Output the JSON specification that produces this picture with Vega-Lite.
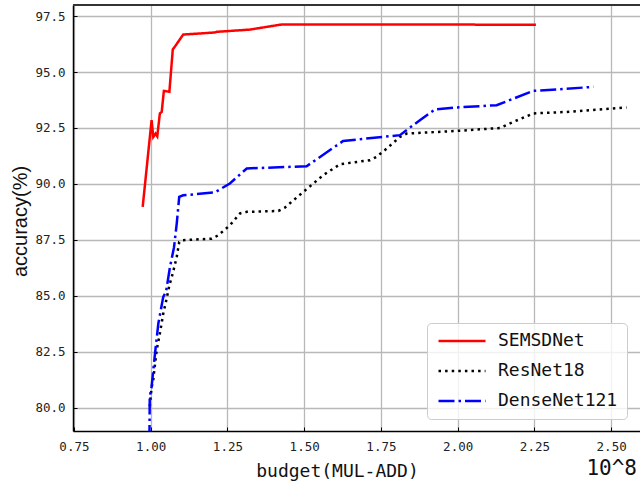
{
  "$schema": "https://vega.github.io/schema/vega-lite/v6.json",
  "width": 567,
  "height": 426,
  "autosize": {"type": "none"},
  "padding": {"left": 73, "top": 5, "right": 0, "bottom": 52},
  "background": "white",
  "config": {
    "view": {"stroke": null},
    "axis": {
      "domainColor": "#000000",
      "domainWidth": 1.5,
      "ticks": true,
      "tickSize": -4,
      "tickColor": "#000000",
      "tickWidth": 1,
      "grid": true,
      "gridColor": "#b8b8b8",
      "gridWidth": 1.3,
      "labelFont": "DejaVu Sans Mono",
      "labelFontSize": 12.5,
      "labelColor": "#222222",
      "labelFlush": false,
      "titleColor": "#111111",
      "titleFontWeight": "normal"
    }
  },
  "title": {
    "text": "10^8",
    "orient": "bottom",
    "anchor": "end",
    "frame": "group",
    "font": "DejaVu Sans Mono",
    "fontSize": 21,
    "fontWeight": "normal",
    "color": "#111111",
    "dx": -3,
    "offset": -22
  },
  "layer": [
    {
      "data": {
        "values": [
          {"model": "SEMSDNet", "budget": 0.974, "accuracy": 88.97},
          {"model": "SEMSDNet", "budget": 1.003, "accuracy": 92.85},
          {"model": "SEMSDNet", "budget": 1.0085, "accuracy": 92.1},
          {"model": "SEMSDNet", "budget": 1.016, "accuracy": 92.25},
          {"model": "SEMSDNet", "budget": 1.0215, "accuracy": 92.13},
          {"model": "SEMSDNet", "budget": 1.03, "accuracy": 93.15},
          {"model": "SEMSDNet", "budget": 1.036, "accuracy": 93.22},
          {"model": "SEMSDNet", "budget": 1.043, "accuracy": 94.16},
          {"model": "SEMSDNet", "budget": 1.061, "accuracy": 94.12},
          {"model": "SEMSDNet", "budget": 1.072, "accuracy": 96.01},
          {"model": "SEMSDNet", "budget": 1.082, "accuracy": 96.2},
          {"model": "SEMSDNet", "budget": 1.106, "accuracy": 96.68},
          {"model": "SEMSDNet", "budget": 1.209, "accuracy": 96.77},
          {"model": "SEMSDNet", "budget": 1.215, "accuracy": 96.8},
          {"model": "SEMSDNet", "budget": 1.323, "accuracy": 96.9},
          {"model": "SEMSDNet", "budget": 1.427, "accuracy": 97.13},
          {"model": "SEMSDNet", "budget": 2.255, "accuracy": 97.12},

          {"model": "ResNet18", "budget": 0.997, "accuracy": 80.05},
          {"model": "ResNet18", "budget": 1.003, "accuracy": 80.9},
          {"model": "ResNet18", "budget": 1.008, "accuracy": 81.2},
          {"model": "ResNet18", "budget": 1.0195, "accuracy": 82.56},
          {"model": "ResNet18", "budget": 1.03, "accuracy": 83.31},
          {"model": "ResNet18", "budget": 1.041, "accuracy": 84.2},
          {"model": "ResNet18", "budget": 1.052, "accuracy": 84.87},
          {"model": "ResNet18", "budget": 1.061, "accuracy": 85.47},
          {"model": "ResNet18", "budget": 1.072, "accuracy": 86.0},
          {"model": "ResNet18", "budget": 1.085, "accuracy": 86.74},
          {"model": "ResNet18", "budget": 1.093, "accuracy": 87.4},
          {"model": "ResNet18", "budget": 1.101, "accuracy": 87.48},
          {"model": "ResNet18", "budget": 1.199, "accuracy": 87.55},
          {"model": "ResNet18", "budget": 1.22, "accuracy": 87.7},
          {"model": "ResNet18", "budget": 1.258, "accuracy": 88.15},
          {"model": "ResNet18", "budget": 1.291, "accuracy": 88.68},
          {"model": "ResNet18", "budget": 1.313, "accuracy": 88.75},
          {"model": "ResNet18", "budget": 1.416, "accuracy": 88.79},
          {"model": "ResNet18", "budget": 1.437, "accuracy": 88.94},
          {"model": "ResNet18", "budget": 1.497, "accuracy": 89.64},
          {"model": "ResNet18", "budget": 1.562, "accuracy": 90.39},
          {"model": "ResNet18", "budget": 1.617, "accuracy": 90.88},
          {"model": "ResNet18", "budget": 1.714, "accuracy": 91.06},
          {"model": "ResNet18", "budget": 1.736, "accuracy": 91.21},
          {"model": "ResNet18", "budget": 1.769, "accuracy": 91.58},
          {"model": "ResNet18", "budget": 1.812, "accuracy": 92.1},
          {"model": "ResNet18", "budget": 1.834, "accuracy": 92.25},
          {"model": "ResNet18", "budget": 1.997, "accuracy": 92.37},
          {"model": "ResNet18", "budget": 2.138, "accuracy": 92.5},
          {"model": "ResNet18", "budget": 2.181, "accuracy": 92.77},
          {"model": "ResNet18", "budget": 2.246, "accuracy": 93.15},
          {"model": "ResNet18", "budget": 2.355, "accuracy": 93.22},
          {"model": "ResNet18", "budget": 2.55, "accuracy": 93.42},

          {"model": "DenseNet121", "budget": 0.996, "accuracy": 78.5},
          {"model": "DenseNet121", "budget": 0.997, "accuracy": 80.47},
          {"model": "DenseNet121", "budget": 1.003, "accuracy": 80.92},
          {"model": "DenseNet121", "budget": 1.014, "accuracy": 82.4},
          {"model": "DenseNet121", "budget": 1.025, "accuracy": 83.76},
          {"model": "DenseNet121", "budget": 1.041, "accuracy": 84.95},
          {"model": "DenseNet121", "budget": 1.05, "accuracy": 85.17},
          {"model": "DenseNet121", "budget": 1.063, "accuracy": 86.29},
          {"model": "DenseNet121", "budget": 1.076, "accuracy": 87.16},
          {"model": "DenseNet121", "budget": 1.085, "accuracy": 88.23},
          {"model": "DenseNet121", "budget": 1.093, "accuracy": 89.42},
          {"model": "DenseNet121", "budget": 1.106, "accuracy": 89.49},
          {"model": "DenseNet121", "budget": 1.209, "accuracy": 89.62},
          {"model": "DenseNet121", "budget": 1.258, "accuracy": 90.02},
          {"model": "DenseNet121", "budget": 1.313, "accuracy": 90.69},
          {"model": "DenseNet121", "budget": 1.508, "accuracy": 90.79},
          {"model": "DenseNet121", "budget": 1.627, "accuracy": 91.92},
          {"model": "DenseNet121", "budget": 1.812, "accuracy": 92.18},
          {"model": "DenseNet121", "budget": 1.877, "accuracy": 92.85},
          {"model": "DenseNet121", "budget": 1.926, "accuracy": 93.33},
          {"model": "DenseNet121", "budget": 1.997, "accuracy": 93.42},
          {"model": "DenseNet121", "budget": 2.127, "accuracy": 93.52},
          {"model": "DenseNet121", "budget": 2.246, "accuracy": 94.16},
          {"model": "DenseNet121", "budget": 2.322, "accuracy": 94.22},
          {"model": "DenseNet121", "budget": 2.442, "accuracy": 94.34}
        ]
      },
      "mark": {"type": "line", "strokeWidth": 2.5, "clip": true},
      "encoding": {
        "x": {
          "field": "budget",
          "type": "quantitative",
          "scale": {"domain": [0.747, 2.594], "nice": false, "zero": false},
          "axis": {
            "values": [0.75, 1.0, 1.25, 1.5, 1.75, 2.0, 2.25, 2.5],
            "format": ".2f",
            "labelPadding": 13,
            "title": "budget(MUL-ADD)",
            "titleFont": "DejaVu Sans Mono",
            "titleFontSize": 18,
            "titleX": 264,
            "titleY": 45,
            "titleBaseline": "alphabetic",
            "titleAnchor": "middle"
          }
        },
        "y": {
          "field": "accuracy",
          "type": "quantitative",
          "scale": {"domain": [78.95, 98.0], "nice": false, "zero": false},
          "axis": {
            "values": [80, 82.5, 85, 87.5, 90, 92.5, 95, 97.5],
            "format": ".1f",
            "labelPadding": 12,
            "title": "accuracy(%)",
            "titleFont": "Liberation Sans",
            "titleFontSize": 20,
            "titleX": -47,
            "titleY": 216,
            "titleAngle": -90,
            "titleAlign": "center",
            "titleBaseline": "alphabetic"
          }
        },
        "color": {
          "field": "model",
          "type": "nominal",
          "scale": {"domain": ["SEMSDNet", "ResNet18", "DenseNet121"], "range": ["#ff0000", "#000000", "#0000ff"]},
          "legend": {
            "title": null,
            "orient": "none",
            "legendX": 354,
            "legendY": 318,
            "fillColor": "rgba(255,255,255,0.8)",
            "strokeColor": "#cccccc",
            "cornerRadius": 4,
            "padding": 9,
            "labelFont": "DejaVu Sans Mono",
            "labelFontSize": 18,
            "labelColor": "#111111",
            "labelOffset": 27,
            "symbolType": "M-4,0H4",
            "symbolSize": 138,
            "symbolOffset": 17,
            "symbolStrokeWidth": 2.5,
            "rowPadding": 12
          }
        },
        "strokeDash": {
          "field": "model",
          "type": "nominal",
          "scale": {"domain": ["SEMSDNet", "ResNet18", "DenseNet121"], "range": [[1, 0], [2.5, 4.1], [16, 4, 2.5, 4]]},
          "legend": null
        }
      }
    },
    {
      "data": {"values": [{"edge": "top"}]},
      "mark": {"type": "rule", "color": "#333333", "strokeWidth": 1.8},
      "encoding": {
        "y": {"datum": 98.0, "type": "quantitative"}
      }
    }
  ]
}
